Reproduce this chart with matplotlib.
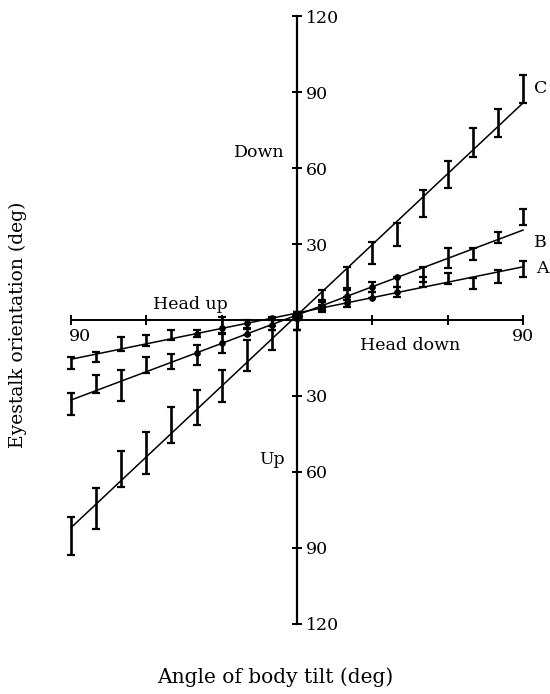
import numpy as np
import matplotlib.pyplot as plt

plt.rcParams['font.family'] = ['DejaVu Serif']

# body tilt (deg), negative = head up
tilt = [-90, -80, -70, -60, -50, -40, -30, -20, -10, 0, 10, 20, 30, 40, 50, 60, 70, 80, 90]

# error bar extents (top / bottom) for each curve
a_hi = [-14.6, -12.6, -6.7, -5.9, -3.9, -3.9, 1.0, 0.0, 1.0, 3.0, 6.0, 9.0, 11.0, 13.0, 17.0, 18.5, 16.6, 19.7, 23.3]
a_lo = [-19.3, -16.6, -12.2, -10.3, -7.9, -6.7, -5.5, -3.5, -2.5, -4.0, 3.0, 5.0, 8.5, 9.0, 13.0, 14.2, 12.2, 14.6, 17.0]
b_hi = [-28.8, -21.7, -19.7, -14.6, -13.4, -9.9, -5.1, -3.0, 0.0, 3.0, 8.0, 12.6, 15.0, 17.0, 21.0, 28.4, 28.4, 34.7, 43.8]
b_lo = [-37.5, -28.8, -32.0, -20.9, -19.3, -17.8, -13.0, -6.0, -4.0, -4.0, 4.0, 8.0, 11.0, 13.0, 15.0, 20.5, 23.7, 30.4, 37.5]
c_hi = [-77.8, -66.3, -51.7, -44.2, -34.3, -27.6, -19.7, -8.0, -4.0, 3.0, 12.0, 21.0, 30.8, 38.3, 51.3, 62.8, 75.8, 83.3, 96.8]
c_lo = [-92.8, -82.5, -65.9, -60.8, -48.6, -41.5, -32.4, -20.0, -11.8, -4.0, 7.0, 12.0, 22.1, 29.2, 40.7, 52.1, 64.4, 72.2, 85.7]

# fitted lines (end points)
line_x = [-90, 90]
a_line = [-15.5, 21.0]
b_line = [-31.6, 35.5]
c_line = [-82.0, 85.7]
dot_x = [-40, -30, -20, -10, 10, 20, 30, 40]

y_ticks = [-120, -90, -60, -30, 30, 60, 90, 120]
x_ticks = [-90, -60, -30, 30, 60, 90]

fig = plt.figure(figsize=(5.5, 6.94), dpi=100)
ax = fig.add_axes([0.129, 0.1009, 0.822, 0.876])
ax.set_xlim(-90, 90)
ax.set_ylim(-120, 120)

ax.spines['left'].set_visible(False)
ax.spines['top'].set_visible(False)
ax.spines['right'].set_position(('data', 0))
ax.spines['bottom'].set_position(('data', 0))
ax.spines['right'].set_linewidth(1.6)
ax.spines['bottom'].set_linewidth(1.4)
ax.yaxis.set_ticks_position('right')
ax.xaxis.set_ticks_position('bottom')
ax.set_yticks(y_ticks)
ax.set_yticklabels([str(abs(v)) for v in y_ticks])
ax.set_xticks(x_ticks)
ax.set_xticklabels([])
ax.tick_params(direction='inout', length=7, width=1.4, labelsize=12.5, pad=3)

for hi, lo, ln in [(a_hi, a_lo, a_line), (b_hi, b_lo, b_line), (c_hi, c_lo, c_line)]:
    hi = np.array(hi)
    lo = np.array(lo)
    ax.plot(line_x, ln, color='black', lw=1.1, clip_on=False)
    ax.errorbar(tilt, (hi + lo) / 2, yerr=(hi - lo) / 2, fmt='none', ecolor='black',
                elinewidth=1.9, capsize=2.6, capthick=1.6, clip_on=False)

for ln in [a_line, b_line]:
    ax.plot(dot_x, np.interp(dot_x, line_x, ln), 'o', ms=3.8, color='black')
ax.plot([0], [1.5], 'o', ms=7, color='black')

ax.text(-86.5, -6.7, '90', ha='center', va='center', fontsize=12.5)
ax.text(90, -6.7, '90', ha='center', va='center', fontsize=12.5)
ax.text(-42.6, 6, 'Head up', ha='center', va='center', fontsize=12.5)
ax.text(45, -10, 'Head down', ha='center', va='center', fontsize=12.5)
ax.text(-5, 66, 'Down', ha='right', va='center', fontsize=12.5)
ax.text(-5, -55, 'Up', ha='right', va='center', fontsize=12.5)
ax.text(97, 91.5, 'C', ha='center', va='center', fontsize=12.5)
ax.text(97, 30.5, 'B', ha='center', va='center', fontsize=12.5)
ax.text(97.5, 20.5, 'A', ha='center', va='center', fontsize=12.5)

fig.text(0.033, 0.532, 'Eyestalk orientation (deg)', rotation=90, ha='center', va='center', fontsize=13.5)
fig.text(0.5, 0.0245, 'Angle of body tilt (deg)', ha='center', va='center', fontsize=14.5)

plt.savefig('out.png', dpi=100)
